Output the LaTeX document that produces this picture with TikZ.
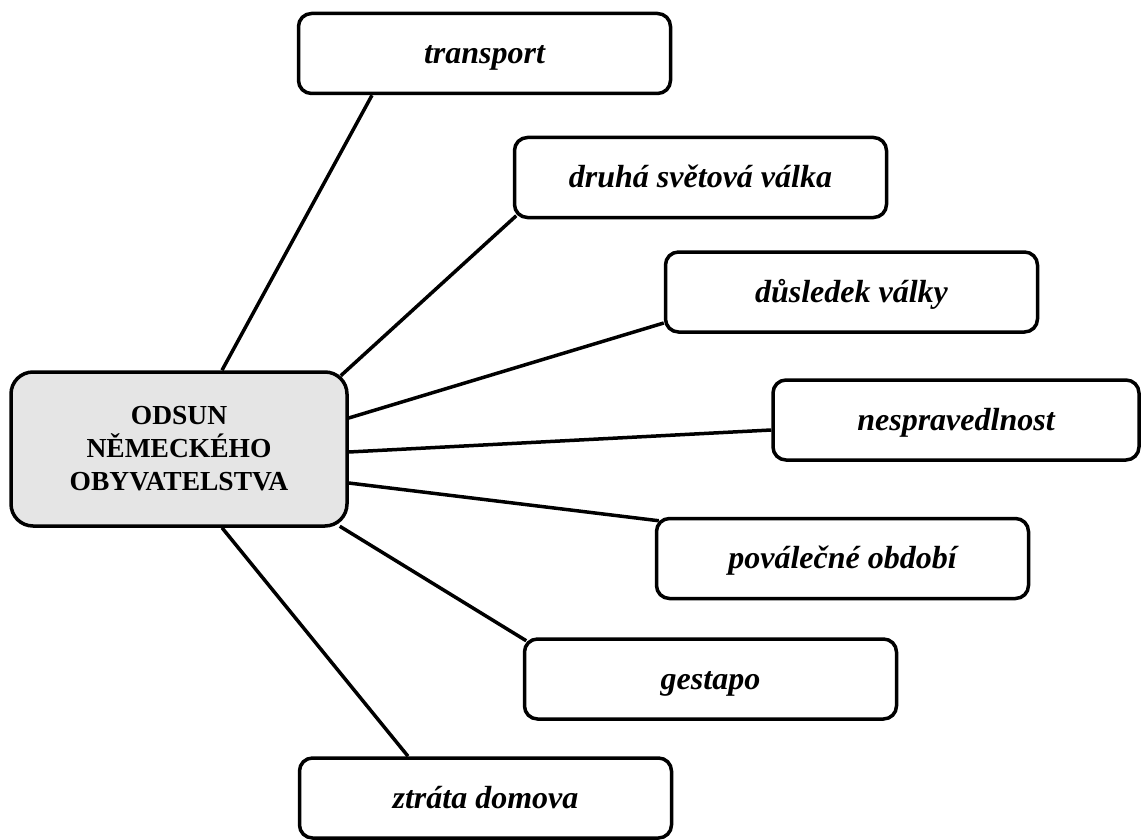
\documentclass[tikz,border=0pt]{standalone}
\usepackage{fontspec}
\setmainfont{Liberation Serif}
\begin{document}
\begin{tikzpicture}[x=1pt,y=-1pt]
        \useasboundingbox (0,0) rectangle (1141,840);

        \node[draw,line width=3.5pt,rounded corners=22pt,fill=black!10,
              minimum width=336pt,minimum height=154pt,align=center,
              font=\fontsize{27.5}{33}\selectfont\bfseries] (0) at (179,449)
              {ODSUN\\NĚMECKÉHO\\OBYVATELSTVA};

        \begin{scope}[every node/.style={draw,line width=3.5pt,rounded corners=13pt,fill=white,
                      minimum width=372pt,minimum height=80pt,text height=24pt,text depth=4pt,
                      font=\fontsize{32}{36}\selectfont\bfseries\itshape}]
          \node (1) at (484.5,53.5)  {transport};
          \node (2) at (700.5,177.5) {druhá světová válka};
          \node (3) at (851.5,292)   {důsledek války};
          \node[minimum width=366pt] (4) at (956,420) {nespravedlnost};
          \node (5) at (842.5,558.5) {poválečné období};
          \node (6) at (710.5,679)   {gestapo};
          \node (7) at (485.5,798)   {ztráta domova};
        \end{scope}

        \begin{scope}[line width=3.5pt]
          \draw ([xshift=43pt]0.north) -- ([xshift=-112.5pt]1.south);
          \draw ([xshift=-8pt,yshift=-5.5pt]0.north east) -- ([xshift=3.5pt,yshift=3.5pt]2.south west);
          \draw ([yshift=31pt]0.east) -- ([yshift=-31pt]3.west);
          \draw ([yshift=-3pt]0.east) -- ([yshift=-10pt]4.west);
          \draw ([yshift=-34pt]0.east) -- ([xshift=4pt,yshift=-4pt]5.north west);
          \draw ([xshift=-9pt,yshift=1.5pt]0.south east) -- ([xshift=3.5pt,yshift=-3.5pt]6.north west);
          \draw ([xshift=43pt]0.south) -- ([xshift=-77.5pt]7.north);
        \end{scope}

      \end{tikzpicture}
\end{document}
